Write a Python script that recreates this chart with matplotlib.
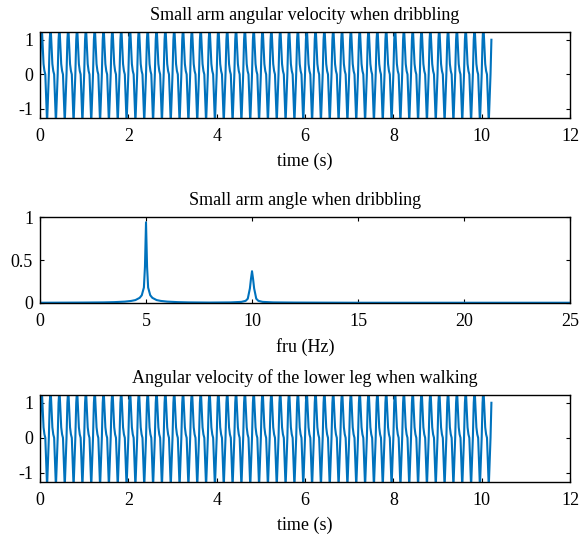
import numpy as np
import matplotlib.pyplot as plt

# one period (0.2 s at 50 Hz sampling) of the angular velocity signal
PERIOD_VALUES = [0.0, 1.0, 1.4, 0.85, 0.3, 0.1, 0.0, -0.7, -1.4, -0.7]
FS = 50.0
N_SAMPLES = 512

# amplitude spectrum points (Hz, normalised amplitude)
SPEC_FREQ = [0, 1, 2, 3, 3.5, 4, 4.3, 4.5, 4.7, 4.8, 4.9, 4.95, 5.0, 5.05, 5.1, 5.2,
             5.3, 5.5, 5.7, 6, 6.5, 7, 8, 9, 9.5, 9.7, 9.8, 9.9, 9.95, 10.0, 10.05,
             10.1, 10.2, 10.3, 10.5, 11, 12, 15, 20, 25]
SPEC_AMP = [0.003, 0.004, 0.005, 0.007, 0.010, 0.016, 0.024, 0.034, 0.06, 0.09, 0.18,
            0.42, 0.94, 0.42, 0.18, 0.09, 0.06, 0.034, 0.024, 0.016, 0.010, 0.007,
            0.005, 0.007, 0.013, 0.025, 0.05, 0.17, 0.28, 0.37, 0.28, 0.17, 0.05,
            0.025, 0.013, 0.007, 0.005, 0.003, 0.003, 0.003]

TITLES = ["Small arm angular velocity when dribbling",
          "Small arm angle when dribbling",
          "Angular velocity of the lower leg when walking"]

BLUE = "#0072BD"
plt.rcParams["font.family"] = ["Liberation Serif", "DejaVu Serif"]
plt.rcParams["font.size"] = 13

t = np.arange(N_SAMPLES) / FS
wave = np.resize(np.array(PERIOD_VALUES), N_SAMPLES)

fig = plt.figure(figsize=(5.79, 5.40), dpi=100)
positions = [[0.0691, 0.7815, 0.9154, 0.159],
             [0.0691, 0.4389, 0.9154, 0.159],
             [0.0691, 0.1074, 0.9154, 0.161]]


def style(ax):
    ax.tick_params(direction="in", top=True, right=True, length=3,
                   width=0.8, labelsize=13)
    ax.tick_params(axis="x", pad=7)
    ax.tick_params(axis="y", pad=5)
    for sp in ax.spines.values():
        sp.set_linewidth(1.0)
        sp.set_color("black")


for i, pos in enumerate(positions):
    ax = fig.add_axes(pos)
    style(ax)
    if i == 1:
        ax.plot(SPEC_FREQ, SPEC_AMP, color=BLUE, lw=1.5)
        ax.set_xlim(0, 25)
        ax.set_ylim(0, 1)
        ax.set_xticks([0, 5, 10, 15, 20, 25])
        ax.set_yticks([0, 0.5, 1])
        ax.set_yticklabels(["0", "0.5", "1"])
        ax.set_xlabel("fru (Hz)", fontsize=13, labelpad=6)
    else:
        ax.plot(t, wave, color=BLUE, lw=1.5)
        ax.set_xlim(0, 12)
        ax.set_ylim(-1.26, 1.22)
        ax.set_xticks([0, 2, 4, 6, 8, 10, 12])
        ax.set_yticks([-1, 0, 1])
        ax.set_yticklabels(["-1", "0", "1"])
        ax.set_xlabel("time (s)", fontsize=13, labelpad=6)
    ax.set_title(TITLES[i], fontsize=13, pad=9)

fig.savefig("out.png", dpi=100, facecolor="white")
